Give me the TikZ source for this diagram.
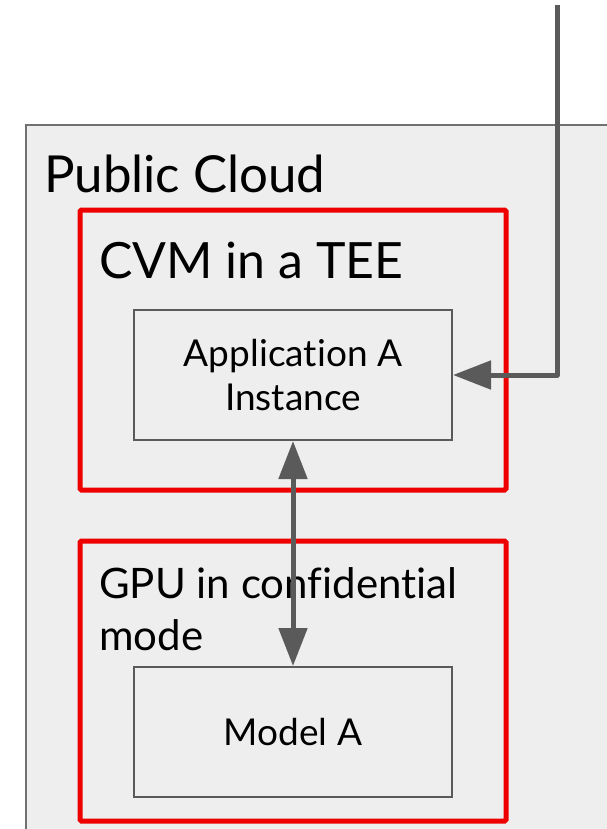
\documentclass[tikz,border=0pt]{standalone}
\usepackage{fontspec}
\setmainfont{Lato}[Ligatures={NoCommon,NoRequired,NoContextual,NoDiscretionary}]
\usetikzlibrary{arrows.meta}
\definecolor{panel}{HTML}{EEEEEE}
\definecolor{frame}{HTML}{707070}
\definecolor{wire}{HTML}{5A5A5A}
\definecolor{teered}{HTML}{EE0000}
\tikzset{
  cloudbox/.style={draw=frame, line width=1.5pt, fill=panel},
  teebox/.style={draw=teered, line width=5pt, rounded corners=1.5pt},
  appbox/.style={draw=wire, line width=2pt, fill=panel, minimum width=318pt, minimum height=130pt, inner sep=0pt, align=center, font=\fontsize{37}{44}\selectfont},
  heading/.style={anchor=base west, inner sep=0pt},
  flow/.style={draw=wire, line width=5pt, -{Triangle[length=38pt,width=28pt]}},
  bothflow/.style={draw=wire, line width=5pt, {Triangle[length=38pt,width=28pt]}-{Triangle[length=38pt,width=28pt]}},
}
\begin{document}
\begin{tikzpicture}[x=1pt,y=-1pt]
  \useasboundingbox (0,0) rectangle (607,829);
  \clip (0,0) rectangle (607,829);
  \fill[white] (0,0) rectangle (607,829);

  % outer cloud region
  \draw[cloudbox] (26,125) rectangle (640,860);
  \node[heading, font=\fontsize{51}{60}\selectfont] (cloud) at (44,193) {Public Cloud};

  % confidential VM enclosure
  \draw[teebox] (80,210) rectangle (506,490);
  \node[heading, font=\fontsize{50}{60}\selectfont] (cvm) at (99,278) {CVM in a TEE};
  \node[appbox] (app) at (293,375) {Application A\\Instance};

  % confidential GPU enclosure
  \draw[teebox] (80,541) rectangle (506,821);
  \node[heading, font=\fontsize{42}{52}\selectfont] (gpu) at (99,598) {GPU in confidential};
  \node[heading, font=\fontsize{42}{52}\selectfont] (mode) at (99,650) {mode};
  \node[appbox] (model) at (293,732) {Model A};

  % connectors
  \coordinate (entry) at (557,5);
  \draw[flow, line join=round] (entry) |- (app.east);
  \draw[bothflow] (app.south) -- (model.north);
\end{tikzpicture}
\end{document}
